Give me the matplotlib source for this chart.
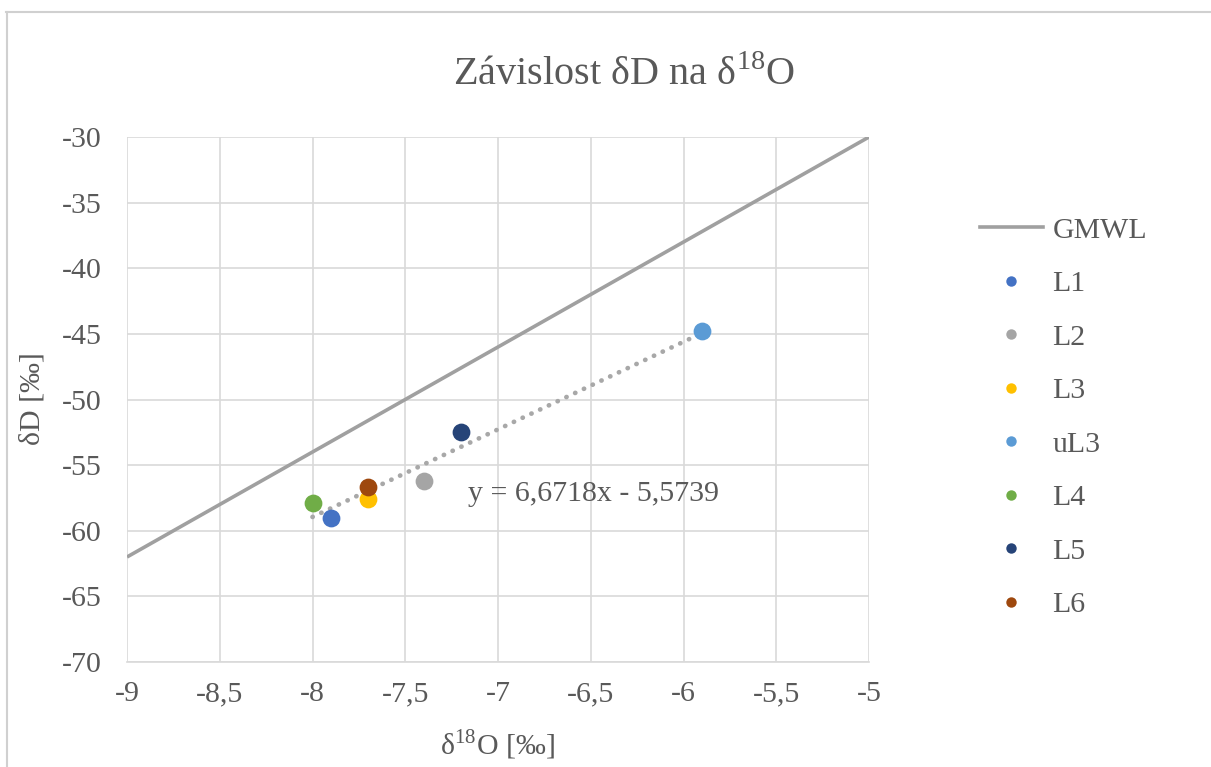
import matplotlib
matplotlib.use("Agg")
import matplotlib.pyplot as plt
from matplotlib.lines import Line2D
import numpy as np

plt.rcParams['font.family'] = ['Liberation Serif', 'DejaVu Serif']
plt.rcParams['mathtext.fontset'] = 'custom'
plt.rcParams['mathtext.rm'] = 'Liberation Serif'
plt.rcParams['axes.unicode_minus'] = False

labels = ["L1", "L2", "L3", "uL3", "L4", "L5", "L6"]
d18O = [-7.9, -7.4, -7.7, -5.9, -8.0, -7.2, -7.7]
dD = [-59.0, -56.2, -57.6, -44.8, -57.9, -52.5, -56.7]
colors = ["#4472C4", "#A5A5A5", "#FFC000", "#5B9BD5", "#70AD47", "#264478", "#9E480E"]

gmwl_x = [-9, -5]
gmwl_slope, gmwl_int = 8, 10

trend_slope, trend_int = 6.6718, -5.5739

xticks = [-9, -8.5, -8, -7.5, -7, -6.5, -6, -5.5, -5]
xticklabels = ["-9", "-8,5", "-8", "-7,5", "-7", "-6,5", "-6", "-5,5", "-5"]
yticks = [-70, -65, -60, -55, -50, -45, -40, -35, -30]

W, H = 1211, 767
fig = plt.figure(figsize=(W / 100, H / 100), dpi=100)
ax = fig.add_axes([127 / W, 1 - 662 / H, (869 - 127) / W, (662 - 137) / H])

txtc = "#595959"
gridc = "#D9D9D9"
fs = 21.5

# GMWL
gx = np.array(gmwl_x, dtype=float)
ax.plot(gx, gmwl_slope * gx + gmwl_int, color="#A0A0A0", lw=2.6, label="GMWL", zorder=3,
        solid_capstyle='butt')

# trendline
tx = np.array([min(d18O), max(d18O)])
ax.plot(tx, trend_slope * tx + trend_int, color="#A8A8A8", lw=3.4, ls=(0, (0.05, 2.0)),
        dash_capstyle='round', zorder=2)

for lab, x, y, c in zip(labels, d18O, dD, colors):
    ax.plot([x], [y], 'o', color=c, markersize=12.8, markeredgewidth=0, label=lab, zorder=4)

ax.text(-7.16, -57.2, "y = 6,6718x - 5,5739", fontsize=fs, color=txtc, va='center', ha='left')

ax.set_xlim(-9, -5)
ax.set_ylim(-70, -30)
ax.set_xticks(xticks)
ax.set_xticklabels(xticklabels)
ax.set_yticks(yticks)
ax.tick_params(axis='both', length=0, labelsize=fs, labelcolor=txtc)
ax.tick_params(axis='y', pad=18)
ax.tick_params(axis='x', pad=14)
ax.grid(True, color=gridc, lw=1.2)
ax.set_axisbelow(True)
for s in ["top", "right", "left"]:
    ax.spines[s].set_visible(False)
ax.spines["bottom"].set_color(gridc)
ax.spines["bottom"].set_linewidth(1.2)

fig.text(624 / W, 1 - 75 / H, r"Závislost δD na δ$^{\mathregular{18}}$O", fontsize=29, color=txtc,
         ha='center', va='center')
fig.text(497 / W, 1 - 745 / H, r"δ$^{\mathregular{18}}$O [‰]", fontsize=fs, color=txtc,
         ha='center', va='center')
fig.text(32 / W, 1 - 399 / H, "δD [‰]", fontsize=fs, color=txtc, ha='center', va='center',
         rotation=90)

handles, labs = ax.get_legend_handles_labels()
leg_handles = []
for h in handles:
    if h.get_marker() == 'o':
        leg_handles.append(Line2D([], [], marker='o', ls='none', color=h.get_color(),
                                  markersize=7.5, markeredgewidth=0))
    else:
        leg_handles.append(Line2D([], [], color="#A0A0A0", lw=2.6))
leg = fig.legend(leg_handles, labs, loc='upper left', bbox_to_anchor=(980 / W, 1 - 217 / H),
                 frameon=False, fontsize=fs, labelcolor=txtc, handlelength=2.1,
                 handletextpad=0.33, labelspacing=0.89, borderaxespad=0, borderpad=0)

# outer border
fig.add_artist(Line2D([6 / W, 1], [1 - 12 / H, 1 - 12 / H], color="#D0D0D0", lw=1.5,
                      transform=fig.transFigure))
fig.add_artist(Line2D([6.5 / W, 6.5 / W], [0, 1 - 12 / H], color="#D0D0D0", lw=1.5,
                      transform=fig.transFigure))

fig.savefig("out.png", dpi=100, facecolor="white")
